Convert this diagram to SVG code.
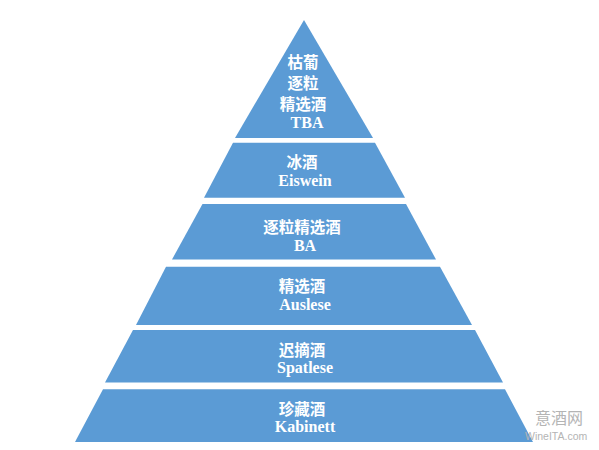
<svg xmlns="http://www.w3.org/2000/svg" width="599" height="450" viewBox="0 0 599 450">
<style>
.band{fill:#5B9BD5;}
.zh{font-family:"Noto Sans CJK SC","Liberation Serif",serif;font-weight:bold;font-size:15.5px;fill:#fff;text-anchor:middle;}
.en{font-family:"Liberation Serif","Times New Roman",serif;font-weight:bold;font-size:16px;fill:#fff;text-anchor:middle;}
.wm{fill:#b4b4b4;}
</style>
<rect width="599" height="450" fill="#fff"/>
<g id="tba">
<polygon class="band" points="304,20 373,138 235,138"/>
<text class="zh" x="303" y="68">枯葡</text>
<text class="zh" x="303" y="89">逐粒</text>
<text class="zh" x="303" y="110">精选酒</text>
<text class="en" x="307" y="128">TBA</text>
</g>
<g id="eiswein">
<polygon class="band" points="233,142.7 375,142.7 405,197.7 204,197.7"/>
<text class="zh" x="302" y="168">冰酒</text>
<text class="en" x="305" y="186">Eiswein</text>
</g>
<g id="ba">
<polygon class="band" points="202.5,204 406,204 436,259.5 172,259.5"/>
<text class="zh" x="302" y="233">逐粒精选酒</text>
<text class="en" x="305" y="250.5">BA</text>
</g>
<g id="auslese">
<polygon class="band" points="166,266.7 440,266.7 472,325 136,325"/>
<text class="zh" x="302" y="292">精选酒</text>
<text class="en" x="305" y="309.5">Auslese</text>
</g>
<g id="spatlese">
<polygon class="band" points="133,330 475,330 503,382.5 105,382.5"/>
<text class="zh" x="302" y="355.5">迟摘酒</text>
<text class="en" x="305" y="373">Spatlese</text>
</g>
<g id="kabinett">
<polygon class="band" points="103,389.3 505,389.3 533,442 75,442"/>
<text class="zh" x="302" y="414.5">珍藏酒</text>
<text class="en" x="305" y="432">Kabinett</text>
</g>
<g id="connectors"></g>
<g id="watermark">
<text class="wm" x="535" y="424" font-size="16" font-family="Noto Sans CJK SC,sans-serif">意酒网</text>
<text class="wm" x="525" y="440" font-size="10.5" font-family="Liberation Sans,sans-serif">WineITA.com</text>
</g>
</svg>
